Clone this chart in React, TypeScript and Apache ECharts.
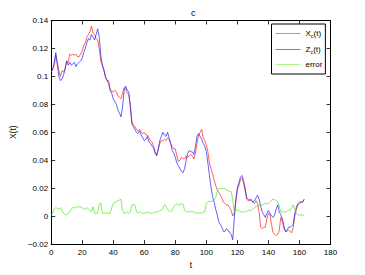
import React, { useEffect, useRef } from "react";
import * as echarts from "echarts";

const xTicksMax = 180;
const yMin = -0.02;
const yMax = 0.14;

// X_c(t), t = 0..163
const xcValues = [
  0.103, 0.105, 0.108, 0.115, 0.110, 0.104, 0.100, 0.104, 0.103, 0.106,
  0.111, 0.110, 0.116, 0.115, 0.116, 0.115, 0.116, 0.114, 0.114, 0.116,
  0.118, 0.122, 0.124, 0.128, 0.130, 0.132, 0.136, 0.131, 0.130, 0.127,
  0.126, 0.120, 0.111, 0.108, 0.105, 0.099, 0.097, 0.097, 0.091, 0.089,
  0.089, 0.090, 0.089, 0.086, 0.085, 0.084, 0.088, 0.092, 0.091, 0.088,
  0.087, 0.080, 0.068, 0.065, 0.064, 0.062, 0.061, 0.062, 0.060, 0.059,
  0.060, 0.058, 0.058, 0.056, 0.054, 0.053, 0.050, 0.046, 0.044, 0.048,
  0.052, 0.054, 0.054, 0.055, 0.054, 0.056, 0.055, 0.052, 0.050, 0.048,
  0.048, 0.043, 0.039, 0.040, 0.042, 0.041, 0.041, 0.043, 0.042, 0.043,
  0.044, 0.043, 0.041, 0.045, 0.052, 0.058, 0.060, 0.062, 0.056, 0.054,
  0.051, 0.046, 0.038, 0.034, 0.030, 0.026, 0.022, 0.019, 0.017, 0.015,
  0.013, 0.010, 0.009, 0.008, 0.008, 0.006, 0.004, 0.000, 0.002, 0.010,
  0.019, 0.022, 0.026, 0.027, 0.024, 0.018, 0.012, 0.011, 0.012, 0.011,
  0.010, 0.009, 0.011, 0.009, 0.003, -0.008, -0.009, -0.008, -0.008, -0.002,
  0.002, 0.001, -0.006, -0.012, -0.013, -0.014, -0.013, -0.010, -0.001, -0.004,
  -0.009, -0.011, -0.011, -0.010, -0.011, -0.012, -0.008, 0.000, 0.005, 0.008,
  0.009, 0.010, 0.010, 0.012,
];

// Z_c(t), t = 0..163
const zcValues = [
  0.103, 0.105, 0.110, 0.117, 0.108, 0.100, 0.097, 0.098, 0.101, 0.105,
  0.111, 0.108, 0.110, 0.108, 0.109, 0.110, 0.107, 0.109, 0.110, 0.111,
  0.113, 0.117, 0.120, 0.124, 0.127, 0.126, 0.130, 0.128, 0.126, 0.130,
  0.134, 0.128, 0.115, 0.108, 0.104, 0.100, 0.097, 0.095, 0.090, 0.088,
  0.084, 0.082, 0.080, 0.076, 0.074, 0.071, 0.078, 0.090, 0.093, 0.090,
  0.089, 0.078, 0.066, 0.064, 0.062, 0.060, 0.059, 0.061, 0.058, 0.056,
  0.054, 0.055, 0.057, 0.053, 0.052, 0.050, 0.049, 0.045, 0.043, 0.048,
  0.054, 0.057, 0.060, 0.058, 0.057, 0.060, 0.056, 0.052, 0.047, 0.045,
  0.042, 0.038, 0.036, 0.034, 0.032, 0.031, 0.034, 0.040, 0.045, 0.047,
  0.046, 0.046, 0.044, 0.050, 0.057, 0.059, 0.057, 0.055, 0.052, 0.050,
  0.046, 0.038, 0.029, 0.021, 0.014, 0.010, 0.005, 0.001, -0.004, -0.006,
  -0.008, -0.011, -0.011, -0.009, -0.010, -0.012, -0.013, -0.017, -0.002, 0.012,
  0.020, 0.024, 0.028, 0.029, 0.025, 0.020, 0.013, 0.012, 0.011, 0.012,
  0.010, 0.011, 0.013, 0.015, 0.012, 0.007, 0.003, 0.001, -0.001, 0.002,
  0.004, 0.002, 0.000, -0.001, 0.001, 0.005, 0.008, 0.003, 0.001, -0.002,
  -0.007, -0.011, -0.010, -0.008, -0.008, -0.007, -0.006, 0.002, 0.006, 0.009,
  0.010, 0.010, 0.010, 0.012,
];

// error, t = 0..163
const errorValues = [
  0.0007, 0.002, 0.005, 0.006, 0.0055, 0.005, 0.006, 0.004, 0.002, 0.001,
  0.001, 0.002, 0.003, 0.005, 0.006, 0.006, 0.0067, 0.006, 0.007, 0.0065,
  0.006, 0.005, 0.005, 0.006, 0.005, 0.004, 0.003, 0.0067, 0.002, 0.002,
  0.002, 0.008, 0.0095, 0.002, 0.002, 0.002, 0.0025, 0.002, 0.002, 0.006,
  0.009, 0.0095, 0.0103, 0.011, 0.0115, 0.012, 0.004, 0.002, 0.002, 0.003,
  0.002, 0.003, 0.008, 0.008, 0.008, 0.003, 0.002, 0.003, 0.0025, 0.002,
  0.002, 0.0025, 0.0025, 0.003, 0.002, 0.002, 0.0025, 0.003, 0.003, 0.003,
  0.004, 0.004, 0.005, 0.008, 0.007, 0.0045, 0.004, 0.003, 0.004, 0.007,
  0.008, 0.009, 0.008, 0.008, 0.009, 0.0085, 0.004, 0.003, 0.003, 0.0035,
  0.003, 0.003, 0.003, 0.0025, 0.002, 0.002, 0.0025, 0.002, 0.003, 0.003,
  0.009, 0.0103, 0.0105, 0.0103, 0.011, 0.0115, 0.013, 0.018, 0.0198, 0.0198,
  0.0195, 0.0198, 0.0198, 0.0186, 0.018, 0.0178, 0.0174, 0.0115, 0.003, 0.004,
  0.0043, 0.004, 0.003, 0.003, 0.003, 0.003, 0.0035, 0.004, 0.004, 0.0043,
  0.005, 0.006, 0.0067, 0.007, 0.008, 0.008, 0.008, 0.0085, 0.009, 0.009,
  0.009, 0.010, 0.0115, 0.012, 0.012, 0.011, 0.0103, 0.007, 0.003, 0.003,
  0.003, 0.003, 0.0035, 0.004, 0.0043, 0.006, 0.008, 0.005, 0.002, 0.001,
  0.0007, 0.0007, 0.0007, 0.0007,
];

const timeSteps = xcValues.map((_, i) => i);

const seriesNames = ["X_c(t)", "Z_c(t)", "error"];
const seriesColors = ["#ff1c1c", "#1c1cff", "#44ee11"];
const legendColors = ["#ff7a7a", "#7a7aff", "#a8f58a"];

const FONT = "Liberation Sans, Arial, Helvetica, sans-serif";

function fmtY(v: number): string {
  const r = parseFloat(v.toFixed(2));
  if (r < 0) return "\u2212" + String(Math.abs(r));
  return String(r);
}

export default function App() {
  const ref = useRef<HTMLDivElement>(null);

  useEffect(() => {
    if (!ref.current) return;
    const chart = echarts.init(ref.current, null, { renderer: "svg" });
    const allValues = [xcValues, zcValues, errorValues];

    const axisCommon = {
      axisLine: { show: true, onZero: false, lineStyle: { color: "#000", width: 1 } },
      axisTick: { show: true, inside: true, length: 4, lineStyle: { color: "#000", width: 0.8 } },
      splitLine: { show: false },
    };

    chart.setOption({
      animation: false,
      backgroundColor: "#fff",
      textStyle: { fontFamily: FONT },
      title: {
        text: "c",
        left: 186,
        top: 3,
        textStyle: { fontFamily: FONT, fontSize: 9, fontWeight: "normal", color: "#000" },
      },
      grid: { left: 47.5, right: 34.5, top: 20.5, bottom: 31, containLabel: false },
      legend: {
        show: true,
        orient: "vertical",
        left: 271.5,
        top: 24,
        padding: [3, 3, 4, 4],
        itemGap: 4,
        itemWidth: 25,
        itemHeight: 1,
        icon: "rect",
        backgroundColor: "#fff",
        borderColor: "#000",
        borderWidth: 1,
        borderRadius: 0,
        data: seriesNames.map((n, k) => ({ name: n, itemStyle: { color: legendColors[k] } })),
        formatter: (name: string) => {
          if (name === "X_c(t)") return "{m|X}{s|c}{m|(t)}";
          if (name === "Z_c(t)") return "{m|Z}{s|c}{m|(t)}";
          return "{m|" + name + "}";
        },
        textStyle: {
          fontFamily: FONT,
          fontSize: 8,
          color: "#000",
          lineHeight: 11,
          rich: {
            m: { fontFamily: FONT, fontSize: 8, color: "#000", lineHeight: 11 },
            s: { fontFamily: FONT, fontSize: 5.5, color: "#000", verticalAlign: "bottom", padding: [6, 0, 0, 0], lineHeight: 11 },
          },
        },
      },
      xAxis: [
        {
          type: "value",
          min: 0,
          max: xTicksMax,
          interval: 20,
          position: "bottom",
          name: "t",
          nameLocation: "middle",
          nameGap: 14,
          nameTextStyle: { fontFamily: FONT, fontSize: 8.5, color: "#000" },
          axisLabel: { fontFamily: FONT, fontSize: 8, color: "#000", margin: 4 },
          ...axisCommon,
        },
        {
          type: "value",
          min: 0,
          max: xTicksMax,
          interval: 20,
          position: "top",
          axisLabel: { show: false },
          ...axisCommon,
        },
      ],
      yAxis: [
        {
          type: "value",
          min: yMin,
          max: yMax,
          interval: 0.02,
          position: "left",
          name: "X(t)",
          nameLocation: "middle",
          nameGap: 29,
          nameRotate: 90,
          nameTextStyle: { fontFamily: FONT, fontSize: 8.5, color: "#000" },
          axisLabel: { fontFamily: FONT, fontSize: 8, color: "#000", margin: 3, formatter: fmtY },
          ...axisCommon,
        },
        {
          type: "value",
          min: yMin,
          max: yMax,
          interval: 0.02,
          position: "right",
          axisLabel: { show: false },
          ...axisCommon,
        },
      ],
      series: seriesNames.map((name, k) => ({
        name,
        type: "line",
        xAxisIndex: 0,
        yAxisIndex: 0,
        symbol: "none",
        showSymbol: false,
        smooth: false,
        lineStyle: { color: seriesColors[k], width: 0.7 },
        itemStyle: { color: seriesColors[k] },
        data: allValues[k].map((v, i) => [timeSteps[i], v]),
      })),
    });

    return () => chart.dispose();
  }, []);

  return (
    <div
      ref={ref}
      style={{ position: "absolute", left: 0, top: 0, width: 365, height: 275 }}
    />
  );
}
